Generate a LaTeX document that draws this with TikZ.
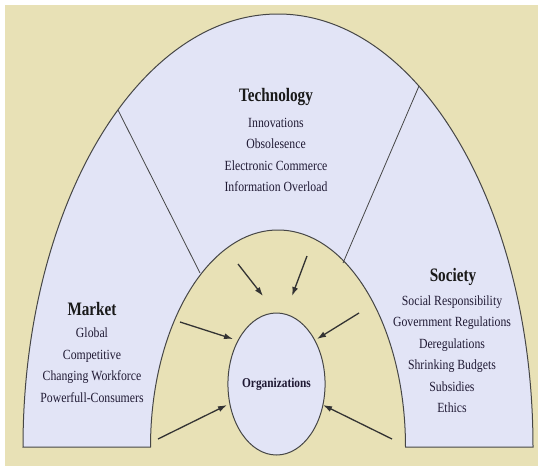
\documentclass[tikz,border=0pt]{standalone}
\usepackage{fontspec}
\setmainfont{Liberation Serif}
\newfontfamily\itemfont{Liberation Serif}[FakeStretch=0.84]
\newfontfamily\headfont{Liberation Serif}[FakeStretch=0.8]
\usetikzlibrary{shapes.geometric,arrows.meta}
\definecolor{beige}{RGB}{232,225,182}
\definecolor{lav}{RGB}{226,228,246}
\definecolor{ink}{RGB}{32,26,52}
\definecolor{rim}{RGB}{70,70,70}

\begin{document}
\begin{tikzpicture}[x=1pt,y=1pt,yscale=-1,xscale=1,
  title/.style={font=\headfont\fontsize{19}{22}\selectfont\bfseries, text=black!90, inner sep=0pt},
  items/.style={font=\itemfont\fontsize{14}{21.5}\selectfont, text=ink, align=center, inner sep=0pt},
  push/.style={draw=black!80, line width=1.3pt, -{Latex[length=9pt,width=6pt]}}]
\useasboundingbox (0,0) rectangle (538,466);

%Background
\fill [beige] (5,5) rectangle (538,466);

%Ring: Market, Technology, Society
\draw [rim, line width=1pt, fill=lav] (23,447) arc [start angle=180, end angle=360, x radius=255, y radius=433] -- (405.5,447) arc [start angle=0, end angle=-180, x radius=127.5, y radius=217] -- cycle;

%Dividers
\coordinate (lo) at (118,110);
\coordinate (li) at (200,273);
\coordinate (ro) at (419,86);
\coordinate (ri) at (343,263);
\draw [rim, line width=0.8pt] (lo) -- (li);
\draw [rim, line width=0.8pt] (ro) -- (ri);

%Organizations
\node [ellipse, draw=rim, line width=1pt, fill=lav, minimum width=89pt, minimum height=142pt, inner sep=0pt, font=\itemfont\fontsize{13.5}{15}\selectfont\bfseries, text=ink] (org) at (276.5,384) {Organizations};

%Arrows: forces on the organization
\coordinate (a1s) at (238,264); \coordinate (a1e) at (263,296);
\coordinate (a2s) at (307,256); \coordinate (a2e) at (292,296);
\coordinate (a3s) at (180,322); \coordinate (a3e) at (233,339);
\coordinate (a4s) at (359,313); \coordinate (a4e) at (317,339);
\coordinate (a5s) at (158,439); \coordinate (a5e) at (227,405);
\coordinate (a6s) at (392,439); \coordinate (a6e) at (323,405);
\draw [push] (a1s) -- (a1e);
\draw [push] (a2s) -- (a2e);
\draw [push] (a3s) -- (a3e);
\draw [push] (a4s) -- (a4e);
\draw [push] (a5s) -- (a5e);
\draw [push] (a6s) -- (a6e);

%Technology
\node [title] (tech) at (276,97) {Technology};
\node [items] (techlist) at (276,155) {Innovations\\Obsolesence\\Electronic Commerce\\Information Overload};

%Market
\node [title] (mkt) at (92,309) {Market};
\node [items] (mktlist) at (92,365) {Global\\Competitive\\Changing Workforce\\Powerfull-Consumers};

%Society
\node [title] (soc) at (453,277) {Society};
\node [items] (soclist) at (452,354) {Social Responsibility\\Government Regulations\\Deregulations\\Shrinking Budgets\\Subsidies\\Ethics};
%

\end{tikzpicture}
\end{document}
